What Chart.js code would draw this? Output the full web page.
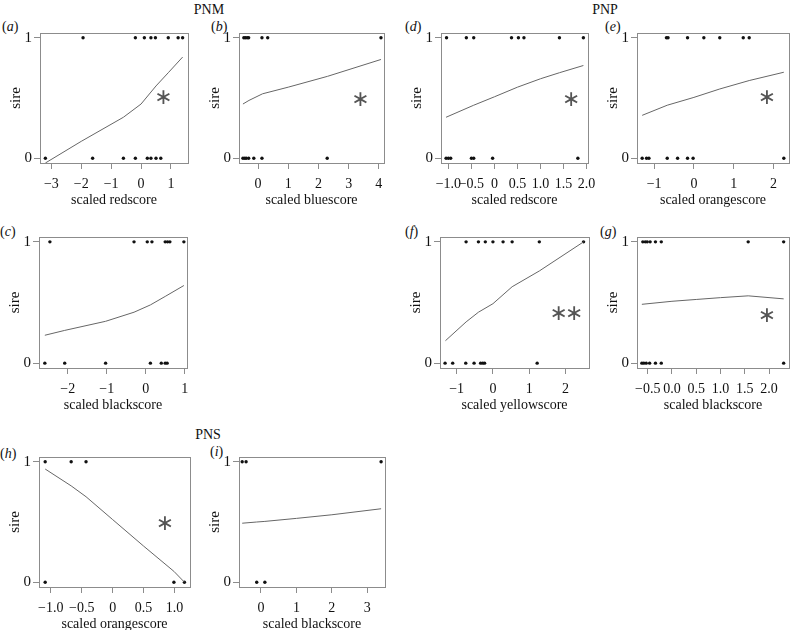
<!DOCTYPE html>
<html>
<head>
<meta charset="utf-8">
<script src="https://cdn.jsdelivr.net/npm/chart.js@4.4.0/dist/chart.umd.min.js"></script>
<style>
  body { margin: 0; background: #fff; }
  #fig { position: relative; width: 790px; height: 630px; overflow: hidden; font-family: "Liberation Serif", serif; color: #111; }
  #fig canvas { position: absolute; }
  .lab { position: absolute; font-size: 14px; line-height: 16px; white-space: nowrap; }
  .head { transform: translateX(-50%); }
</style>
</head>
<body>
<div id="fig">
  <div class="lab head" style="left:209px;top:2px">PNM</div>
  <div class="lab head" style="left:605px;top:2px">PNP</div>
  <div class="lab head" style="left:208px;top:427px">PNS</div>
  <div class="lab" style="left:2px;top:19px">(<i>a</i>)</div>
  <div class="lab" style="left:211px;top:19px">(<i>b</i>)</div>
  <div class="lab" style="left:405px;top:19px">(<i>d</i>)</div>
  <div class="lab" style="left:605px;top:19px">(<i>e</i>)</div>
  <div class="lab" style="left:0px;top:224px">(<i>c</i>)</div>
  <div class="lab" style="left:405px;top:224px">(<i>f</i>)</div>
  <div class="lab" style="left:600px;top:224px">(<i>g</i>)</div>
  <div class="lab" style="left:0px;top:446px">(<i>h</i>)</div>
  <div class="lab" style="left:210px;top:444px">(<i>i</i>)</div>
</div>
<script>
let aX = [-1.94, -0.19, 0.11, 0.33, 0.48, 0.91, 1.24, 1.39, -3.2, -1.62, -0.59, -0.19, 0.21, 0.33, 0.5, 0.66];
let aY = [1, 1, 1, 1, 1, 1, 1, 1, 0, 0, 0, 0, 0, 0, 0, 0];
let aFitX = [-3.2, -2.0, -0.59, 0, 0.5, 0.91, 1.39];
let aFitY = [-0.04, 0.14, 0.34, 0.45, 0.60, 0.71, 0.84];

let bX = [-0.47, -0.42, -0.36, -0.31, 0.13, 0.32, 4.07, -0.5, -0.44, -0.39, -0.31, -0.14, 0.13, 2.29];
let bY = [1, 1, 1, 1, 1, 1, 1, 0, 0, 0, 0, 0, 0, 0];
let bFitX = [-0.5, -0.3, 0.15, 1, 2.3, 4.07];
let bFitY = [0.45, 0.48, 0.535, 0.59, 0.68, 0.82];

let cX = [-2.46, -0.30, 0.04, 0.16, 0.50, 0.56, 0.62, 0.98, -2.59, -2.08, -1.03, 0.12, 0.40, 0.50, 0.55];
let cY = [1, 1, 1, 1, 1, 1, 1, 1, 0, 0, 0, 0, 0, 0, 0];
let cFitX = [-2.59, -2.08, -1.03, -0.3, 0.12, 0.5, 0.98];
let cFitY = [0.23, 0.27, 0.345, 0.42, 0.48, 0.55, 0.64];

let dX = [-1.04, -0.61, -0.45, 0.37, 0.52, 0.64, 1.41, 1.93, -1.05, -1.0, -0.95, -0.5, -0.45, -0.04, 1.81];
let dY = [1, 1, 1, 1, 1, 1, 1, 1, 0, 0, 0, 0, 0, 0, 0];
let dFitX = [-1.05, -0.45, 0, 0.5, 1.0, 1.41, 1.93];
let dFitY = [0.34, 0.44, 0.51, 0.59, 0.66, 0.71, 0.77];

let eX = [-0.69, -0.65, -0.16, 0.25, 0.65, 1.24, 1.39, -1.30, -1.19, -1.13, -0.67, -0.41, -0.16, -0.02, 2.26];
let eY = [1, 1, 1, 1, 1, 1, 1, 0, 0, 0, 0, 0, 0, 0, 0];
let eFitX = [-1.30, -0.67, 0, 0.65, 1.39, 2.26];
let eFitY = [0.356, 0.44, 0.505, 0.575, 0.645, 0.714];

let fX = [-0.74, -0.40, -0.21, 0, 0.28, 0.53, 1.28, 2.5, -1.32, -1.11, -0.75, -0.52, -0.34, -0.28, -0.23, 1.22];
let fY = [1, 1, 1, 1, 1, 1, 1, 1, 0, 0, 0, 0, 0, 0, 0, 0];
let fFitX = [-1.31, -0.74, -0.4, 0, 0.53, 1.28, 2.5];
let fFitY = [0.185, 0.34, 0.42, 0.49, 0.63, 0.76, 1.0];

let gX = [-0.6, -0.55, -0.51, -0.45, -0.34, -0.22, 1.57, 2.30, -0.62, -0.58, -0.53, -0.46, -0.34, -0.22, 2.30];
let gY = [1, 1, 1, 1, 1, 1, 1, 1, 0, 0, 0, 0, 0, 0, 0];
let gFitX = [-0.62, 0, 0.5, 1.0, 1.57, 2.3];
let gFitY = [0.485, 0.51, 0.525, 0.54, 0.555, 0.53];

let hX = [-1.09, -0.67, -0.43, -1.09, 0.99, 1.16];
let hY = [1, 1, 1, 0, 0, 0];
let hFitX = [-1.09, -0.67, -0.43, 0, 0.5, 0.99, 1.16];
let hFitY = [0.94, 0.80, 0.71, 0.52, 0.30, 0.09, 0.0];

let iX = [-0.53, -0.42, 3.39, -0.12, 0.11];
let iY = [1, 1, 1, 0, 0];
let iFitX = [-0.53, -0.12, 0.11, 1, 2, 3.39];
let iFitY = [0.49, 0.50, 0.505, 0.53, 0.56, 0.61];

// tick values and labels
let yTicks = [0, 1];
let yTickLabels = ['0', '1'];
let aTicks = [-3, -2, -1, 0, 1];
let aTickLabels = ['−3', '−2', '−1', '0', '1'];
let bTicks = [0, 1, 2, 3, 4];
let bTickLabels = ['0', '1', '2', '3', '4'];
let cTicks = [-2, -1, 0, 1];
let cTickLabels = ['−2', '−1', '0', '1'];
let dTicks = [-1, -0.5, 0, 0.5, 1, 1.5, 2];
let dTickLabels = ['−1.0', '−0.5', '0', '0.5', '1.0', '1.5', '2.0'];
let eTicks = [-1, 0, 1, 2];
let eTickLabels = ['−1', '0', '1', '2'];
let fTicks = [-1, 0, 1, 2];
let fTickLabels = ['−1', '0', '1', '2'];
let gTicks = [-0.5, 0, 0.5, 1, 1.5, 2];
let gTickLabels = ['−0.5', '0.0', '0.5', '1.0', '1.5', '2.0'];
let hTicks = [-1, -0.5, 0, 0.5, 1];
let hTickLabels = ['−1.0', '−0.5', '0', '0.5', '1.0'];
let iTicks = [0, 1, 2, 3];
let iTickLabels = ['0', '1', '2', '3'];

// significance marks (text, x, y in data units)
let aStar = ['∗', 0.74, 0.51];
let bStar = ['∗', 3.38, 0.49];
let dStar = ['∗', 1.66, 0.49];
let eStar = ['∗', 1.83, 0.51];
let fStar = ['∗∗', 2.02, 0.41];
let gStar = ['∗', 1.95, 0.395];
let hStar = ['∗', 0.84, 0.49];

Chart.defaults.font.family = '"Liberation Serif", serif';
Chart.defaults.font.size = 14;
Chart.defaults.color = '#111';

const YW = 40, XH = 48, PT = 20, PR = 15;

const panels = [
  { box: [40, 33, 188, 163], xr: [-3.38, 1.57], x: aX, y: aY, fx: aFitX, fy: aFitY, t: aTicks, tl: aTickLabels, title: 'scaled redscore', star: aStar },
  { box: [239, 33, 384, 163], xr: [-0.63, 4.17], x: bX, y: bY, fx: bFitX, fy: bFitY, t: bTicks, tl: bTickLabels, title: 'scaled bluescore', star: bStar },
  { box: [441, 33, 588, 163], xr: [-1.16, 2.03], x: dX, y: dY, fx: dFitX, fy: dFitY, t: dTicks, tl: dTickLabels, title: 'scaled redscore', star: dStar },
  { box: [637, 33, 789, 163], xr: [-1.43, 2.39], x: eX, y: eY, fx: eFitX, fy: eFitY, t: eTicks, tl: eTickLabels, title: 'scaled orangescore', star: eStar },
  { box: [39, 237, 187, 368], xr: [-2.74, 1.06], x: cX, y: cY, fx: cFitX, fy: cFitY, t: cTicks, tl: cTickLabels, title: 'scaled blackscore', star: null },
  { box: [440, 237, 589, 368], xr: [-1.46, 2.65], x: fX, y: fY, fx: fFitX, fy: fFitY, t: fTicks, tl: fTickLabels, title: 'scaled yellowscore', star: fStar },
  { box: [637, 237, 789, 368], xr: [-0.72, 2.41], x: gX, y: gY, fx: gFitX, fy: gFitY, t: gTicks, tl: gTickLabels, title: 'scaled blackscore', star: gStar },
  { box: [39, 457, 190, 587], xr: [-1.19, 1.25], x: hX, y: hY, fx: hFitX, fy: hFitY, t: hTicks, tl: hTickLabels, title: 'scaled orangescore', star: hStar },
  { box: [239, 457, 385, 587], xr: [-0.62, 3.50], x: iX, y: iY, fx: iFitX, fy: iFitY, t: iTicks, tl: iTickLabels, title: 'scaled blackscore', star: null }
];

const boxPlugin = {
  id: 'box',
  afterDraw(chart) {
    const { ctx, chartArea: a } = chart;
    ctx.save();
    ctx.strokeStyle = '#8c8c8c';
    ctx.lineWidth = 1;
    ctx.strokeRect(Math.round(a.left) + 0.5, Math.round(a.top) + 0.5, Math.round(a.right - a.left), Math.round(a.bottom - a.top));
    ctx.restore();
  }
};

function starPlugin(star) {
  return {
    id: 'star',
    afterDatasetsDraw(chart) {
      if (!star) return;
      const ctx = chart.ctx;
      const px = chart.scales.x.getPixelForValue(star[1]);
      const py = chart.scales.y.getPixelForValue(star[2]);
      ctx.save();
      ctx.font = '22px "DejaVu Sans", sans-serif';
      ctx.letterSpacing = '-3px';
      ctx.fillStyle = '#555';
      ctx.textBaseline = 'alphabetic';
      const m = ctx.measureText(star[0]);
      const w = m.actualBoundingBoxRight + m.actualBoundingBoxLeft;
      const h = m.actualBoundingBoxAscent + m.actualBoundingBoxDescent;
      ctx.fillText(star[0], px - w / 2 + m.actualBoundingBoxLeft, py + h / 2 - m.actualBoundingBoxDescent);
      ctx.restore();
    }
  };
}

const fig = document.getElementById('fig');

panels.forEach((p) => {
  const [L, T, R, B] = p.box;
  const cv = document.createElement('canvas');
  cv.width = YW + (R - L) + PR;
  cv.height = PT + (B - T) + XH;
  cv.style.left = (L - YW) + 'px';
  cv.style.top = (T - PT) + 'px';
  fig.appendChild(cv);

  new Chart(cv.getContext('2d'), {
    type: 'scatter',
    data: {
      datasets: [
        {
          data: p.fx.map((v, i) => ({ x: v, y: p.fy[i] })),
          showLine: true,
          borderColor: '#666',
          borderWidth: 1,
          pointRadius: 0,
          clip: false
        },
        {
          data: p.x.map((v, i) => ({ x: v, y: p.y[i] })),
          backgroundColor: '#111',
          borderWidth: 0,
          pointRadius: 1.7,
          clip: false
        }
      ]
    },
    options: {
      responsive: false,
      animation: false,
      events: [],
      layout: { padding: { top: PT, right: PR, left: 0, bottom: 0 } },
      plugins: {
        legend: { display: false },
        tooltip: { enabled: false }
      },
      scales: {
        x: {
          type: 'linear',
          min: p.xr[0],
          max: p.xr[1],
          afterFit: (s) => { s.height = XH; },
          afterBuildTicks: (s) => { s.ticks = p.t.map((v) => ({ value: v })); },
          ticks: {
            callback: (v, i) => p.tl[i],
            padding: 7,
            autoSkip: false,
            maxRotation: 0,
            minRotation: 0
          },
          grid: { drawOnChartArea: false, tickLength: 6, color: '#8c8c8c' },
          border: { display: false },
          title: { display: true, text: p.title, padding: { top: 0, bottom: 2 } }
        },
        y: {
          min: -0.04,
          max: 1.04,
          afterFit: (s) => { s.width = YW; },
          afterBuildTicks: (s) => { s.ticks = yTicks.map((v) => ({ value: v })); },
          ticks: {
            callback: (v, i) => yTickLabels[i],
            padding: 2,
            font: { size: 15 }
          },
          grid: { drawOnChartArea: false, tickLength: 6, color: '#8c8c8c' },
          border: { display: false },
          title: { display: true, text: 'sire', padding: { top: 7, bottom: 0 }, font: { size: 15 } }
        }
      }
    },
    plugins: [boxPlugin, starPlugin(p.star)]
  });
});
</script>
</body>
</html>
